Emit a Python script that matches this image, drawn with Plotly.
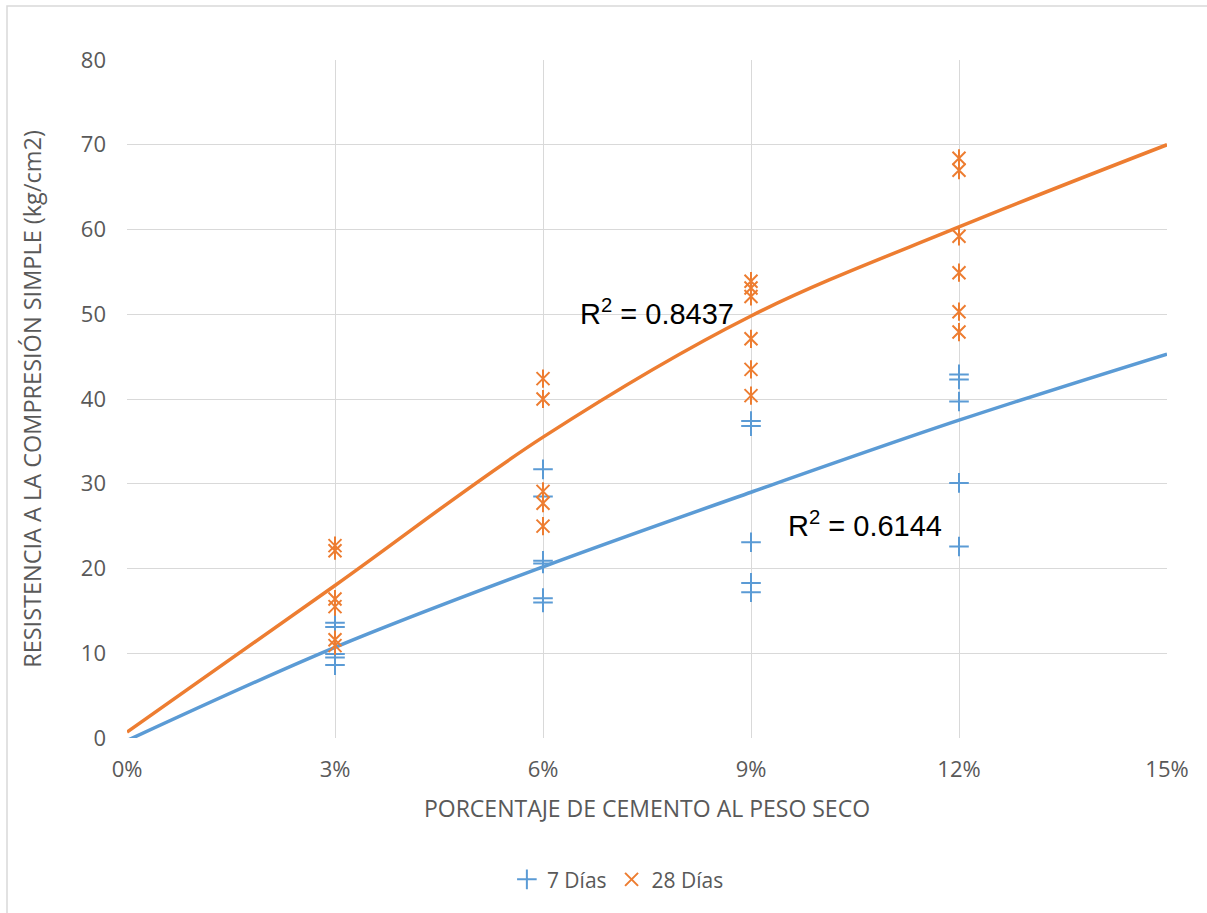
import plotly.graph_objects as go

# Cement content (% of dry weight) for each specimen group
pct_7 = [3, 3, 3, 3, 3,
         6, 6, 6, 6, 6, 6,
         9, 9, 9, 9, 9,
         12, 12, 12, 12, 12]
res_7 = [13.6, 13.1, 9.9, 9.5, 8.6,
         31.7, 28.5, 20.9, 20.6, 16.5, 16.0,
         37.4, 36.8, 23.1, 18.3, 17.2,
         42.9, 42.3, 39.7, 30.1, 22.6]

pct_28 = [3, 3, 3, 3, 3, 3,
          6, 6, 6, 6, 6,
          9, 9, 9, 9, 9, 9,
          12, 12, 12, 12, 12, 12]
res_28 = [22.7, 22.1, 16.4, 15.5, 11.6, 10.9,
          42.4, 40.0, 29.1, 27.7, 25.0,
          53.9, 53.1, 52.1, 47.1, 43.5, 40.4,
          68.4, 67.0, 59.2, 54.9, 50.3, 47.9]

# Polynomial trendlines sampled along the axis
trend_x = [0, 3, 6, 9, 12, 15]
trend_7 = [-0.3, 10.7, 20.2, 29.0, 37.5, 45.3]
trend_28 = [0.7, 18.0, 35.5, 49.8, 60.3, 70.0]

r2_7 = "0.6144"
r2_28 = "0.8437"

x_ticks = [0, 3, 6, 9, 12, 15]
x_tick_labels = ["0%", "3%", "6%", "9%", "12%", "15%"]
y_ticks = [0, 10, 20, 30, 40, 50, 60, 70, 80]

BLUE = "#5B9BD5"
ORANGE = "#ED7D31"
GRAY = "#595959"
GRID = "#D9D9D9"
FONT = "Open Sans"

fig = go.Figure()

fig.add_trace(go.Scatter(
    x=trend_x, y=trend_7, mode="lines", line=dict(color=BLUE, width=3.5, shape="spline"),
    showlegend=False, hoverinfo="skip"))
fig.add_trace(go.Scatter(
    x=trend_x, y=trend_28, mode="lines", line=dict(color=ORANGE, width=3.5, shape="spline"),
    showlegend=False, hoverinfo="skip"))

fig.add_trace(go.Scatter(
    x=pct_7, y=res_7, mode="markers", name="7 Días",
    marker=dict(symbol="cross-thin-open", size=14, line=dict(color=BLUE, width=2), color=BLUE)))

# star marker: an X with a vertical stroke through it
fig.add_trace(go.Scatter(
    x=pct_28, y=res_28, mode="markers", name="28 Días",
    marker=dict(symbol="x-thin-open", size=13, line=dict(color=ORANGE, width=2), color=ORANGE)))
fig.add_trace(go.Scatter(
    x=pct_28, y=res_28, mode="markers", showlegend=False, hoverinfo="skip",
    marker=dict(symbol="line-ns-open", size=13, line=dict(color=ORANGE, width=2), color=ORANGE)))

fig.add_annotation(x=6.5, y=50.3, xref="x", yref="y", xanchor="left", yanchor="middle",
                   text=f"R<sup>2</sup> = {r2_28}", showarrow=False,
                   font=dict(family="Liberation Sans, Arial", size=29, color="#000000"))
fig.add_annotation(x=9.5, y=25.3, xref="x", yref="y", xanchor="left", yanchor="middle",
                   text=f"R<sup>2</sup> = {r2_7}", showarrow=False,
                   font=dict(family="Liberation Sans, Arial", size=29, color="#000000"))

# chart frame
fig.add_shape(type="rect", xref="paper", yref="paper",
              x0=(7 - 127) / 1040, x1=(1230 - 127) / 1040,
              y0=(738 - 940) / 678, y1=(738 - 6) / 678,
              line=dict(color="#D9D9D9", width=1.5), fillcolor="rgba(0,0,0,0)", layer="below")

fig.update_layout(
    width=1207, height=913,
    margin=dict(l=127, r=40, t=60, b=175),
    paper_bgcolor="white", plot_bgcolor="white",
    font=dict(family=FONT, color=GRAY, size=22),
    legend=dict(orientation="h", x=0.472, xanchor="center", y=-0.209, yanchor="middle",
                font=dict(family=FONT, size=21, color=GRAY), itemwidth=30),
    xaxis=dict(range=[0, 15], tickmode="array", tickvals=x_ticks, ticktext=x_tick_labels,
               showgrid=True, gridcolor=GRID, gridwidth=1, zeroline=False, showline=False,
               ticks="", ticklabelstandoff=16,
               tickfont=dict(size=22, color=GRAY),
               title=dict(text="PORCENTAJE DE CEMENTO AL PESO SECO", standoff=18,
                          font=dict(size=23, color=GRAY))),
    yaxis=dict(range=[0, 80], tickvals=y_ticks, showgrid=True, gridcolor=GRID, gridwidth=1,
               zeroline=False, showline=False, ticks="", ticklabelstandoff=20,
               tickfont=dict(size=22, color=GRAY),
               title=dict(text="RESISTENCIA A LA COMPRESIÓN SIMPLE (kg/cm2)", standoff=32,
                          font=dict(size=23.5, color=GRAY))),
)

fig.write_html("out.html")
